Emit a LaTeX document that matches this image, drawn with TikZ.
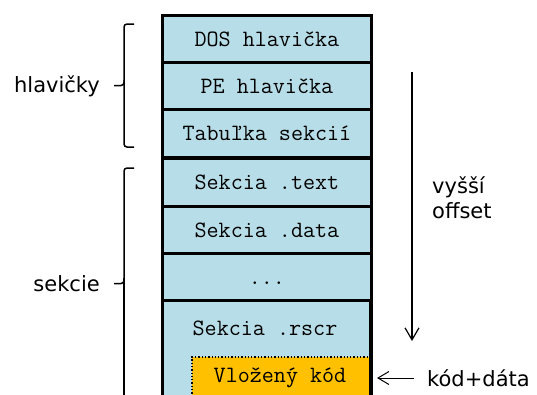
\documentclass[tikz,border=0pt]{standalone}
\usepackage{fontspec}
\setmainfont{DejaVu Sans}
\usetikzlibrary{arrows.meta}

\definecolor{cellblue}{HTML}{B7DEE8}
\definecolor{codeorange}{HTML}{FFC000}

\tikzset{
  cell/.style={draw=black, line width=2.8pt, fill=cellblue, anchor=north west,
    minimum width=209pt, inner sep=0pt,
    font=\ttfamily\fontsize{23.4}{26}\selectfont},
  celltext/.style={inner sep=0pt, font=\ttfamily\fontsize{23.4}{26}\selectfont},
  label/.style={inner sep=0pt, align=left, font=\fontsize{21}{25.5}\selectfont},
  bracket/.style={draw=black, line width=1.5pt, rounded corners=3pt},
  offsetarrow/.style={draw=black, line width=1.2pt,
    -{Straight Barb[length=12pt,width=14pt,line width=1.2pt]}},
  pointer/.style={draw=black, line width=1pt,
    -{Straight Barb[length=11pt,width=13pt,line width=1pt]}},
}

\begin{document}
\begin{tikzpicture}[x=1pt,y=-1pt]
\useasboundingbox (0,0) rectangle (537,394);
\clip (0,0) rectangle (537,394);

% header part of the file
\node[cell, minimum height=47pt]   (dos)  at (161,14)    {DOS hlavička};
\node[cell, minimum height=47pt]   (pe)   at (161,61)    {PE hlavička};
\node[cell, minimum height=47.5pt] (tab)  at (161,108)   {Tabuľka sekcií};

% sections
\node[cell, minimum height=48pt]   (text) at (161,157)   {Sekcia .text};
\node[cell, minimum height=47pt]   (data) at (161,205)   {Sekcia .data};
\node[cell, minimum height=47pt]   (dots) at (161,252)   {\vphantom{S}...};
\node[cell, minimum height=130pt]  (rscr) at (161,299)   {};
\node[celltext] (rscrlabel) at (265,328) {Sekcia .rscr};

% injected code inside the last section
\path[fill=codeorange] (192,357) rectangle (369,420);
\draw[black, line width=1.3pt, dotted] (192,420) -- (192,357) -- (368.6,357);
\draw[black, line width=2.8pt] (370,299) -- (370,420);
\node[celltext] (code) at (280,378) {Vložený kód};

% brackets with labels
\draw[bracket] (134,24) -- (124,24) -- (124,85.5) -- (114,85.5);
\draw[bracket] (124,80) -- (124,147) -- (134,147);
\node[label, anchor=east] (hdr) at (100,86) {hlavičky};

\draw[bracket] (134,168) -- (124,168) -- (124,283.5) -- (114,283.5);
\draw[bracket] (124,278) -- (124,420);
\node[label, anchor=east] (sec) at (100,284) {sekcie};

% growing offset
\coordinate (offtop) at (412,72);
\coordinate (offbot) at (412,341);
\draw[offsetarrow] (offtop) -- (offbot);
\node[label, anchor=north west] (offset) at (432,176) {vyšší\\offset};

% pointer to the injected code
\node[label, anchor=west] (payload) at (427,378) {kód+dáta};
\coordinate (codeedge) at (377,378);
\draw[pointer] (payload.west) ++(-13,0) -- (codeedge);
\end{tikzpicture}
\end{document}
